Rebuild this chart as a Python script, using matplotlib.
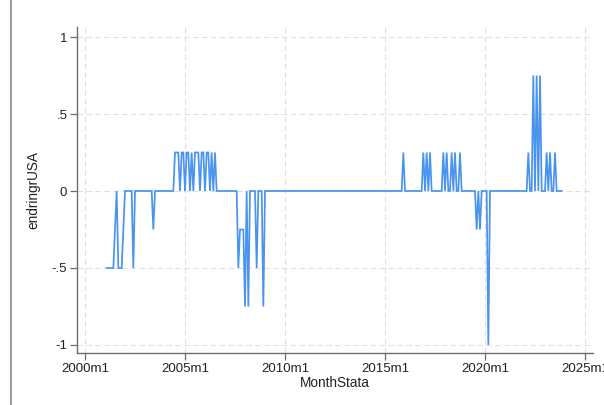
import numpy as np
import matplotlib
matplotlib.use("Agg")
import matplotlib.pyplot as plt
from matplotlib.lines import Line2D

# Monthly change in the US policy rate (percentage points); months not listed are 0
series_start = "2001m2"
series_end = "2023m11"
change_months = [
    "2001m2", "2001m3", "2001m4", "2001m5", "2001m6", "2001m7",
    "2001m9", "2001m10", "2001m11", "2001m12",
    "2002m6", "2003m6",
    "2004m7", "2004m8", "2004m9", "2004m11", "2004m12",
    "2005m2", "2005m3", "2005m5", "2005m7", "2005m8", "2005m9",
    "2005m11", "2005m12", "2006m2", "2006m3", "2006m5", "2006m7",
    "2007m9", "2007m10", "2007m11", "2007m12", "2008m1", "2008m3",
    "2008m8", "2008m12",
    "2015m12", "2016m12", "2017m2", "2017m4", "2017m12",
    "2018m2", "2018m5", "2018m7", "2018m10",
    "2019m8", "2019m10", "2020m3",
    "2022m3", "2022m6", "2022m8", "2022m10",
    "2023m2", "2023m4", "2023m7",
]
change_values = [
    -0.5, -0.5, -0.5, -0.5, -0.5, -0.25,
    -0.5, -0.5, -0.5, -0.25,
    -0.5, -0.25,
    0.25, 0.25, 0.25, 0.25, 0.25,
    0.25, 0.25, 0.25, 0.25, 0.25, 0.25,
    0.25, 0.25, 0.25, 0.25, 0.25, 0.25,
    -0.5, -0.25, -0.25, -0.25, -0.75, -0.75,
    -0.5, -0.75,
    0.25, 0.25, 0.25, 0.25, 0.25,
    0.25, 0.25, 0.25, 0.25,
    -0.25, -0.25, -1.0,
    0.25, 0.75, 0.75, 0.75,
    0.25, 0.25, 0.25,
]

x_ticks = ["2000m1", "2005m1", "2010m1", "2015m1", "2020m1", "2025m1"]
y_ticks = [-1, -0.5, 0, 0.5, 1]
y_tick_labels = ["-1", "-.5", "0", ".5", "1"]


def stata_month(label):
    """Stata %tm value: months since 1960m1."""
    year, month = label.split("m")
    return (int(year) - 1960) * 12 + int(month) - 1


months = np.arange(stata_month(series_start), stata_month(series_end) + 1)
values = np.zeros(len(months))
for lab, val in zip(change_months, change_values):
    values[months == stata_month(lab)] = val

plt.rcParams["font.family"] = ["Liberation Sans", "DejaVu Sans"]

fig = plt.figure(figsize=(6.04, 4.05), dpi=100)
ax = fig.add_axes([77 / 604, 1 - 353 / 405, (593 - 77) / 604, (353 - 27) / 405])

ax.plot(months, values, color="#4a93ee", lw=1.25, solid_joinstyle="miter")

tick_pos = [stata_month(t) for t in x_ticks]
ax.set_xticks(tick_pos)
ax.set_xticklabels(x_ticks)
ax.set_yticks(y_ticks)
ax.set_yticklabels(y_tick_labels)

ax.set_xlim(stata_month("2000m1") - 4.8, stata_month("2025m1") + 4.8)
ax.set_ylim(-1.052, 1.065)

ax.grid(True, color="#e0e0e0", lw=0.8, ls=(0, (5, 3)))
ax.set_axisbelow(True)

for side in ("top", "right"):
    ax.spines[side].set_visible(False)
for side in ("left", "bottom"):
    ax.spines[side].set_color("#6e6e6e")
    ax.spines[side].set_linewidth(1.0)

ax.tick_params(axis="both", direction="out", length=5, width=0.9,
               color="#6e6e6e", labelsize=9.5, labelcolor="#222222", pad=2)

ax.set_xlabel("MonthStata", fontsize=9.8, color="#222222", labelpad=1)
ax.set_ylabel("endringrUSA", fontsize=9.8, color="#222222", labelpad=8)

# thin frame line along the left edge of the window
fig.add_artist(Line2D([11 / 604, 11 / 604], [0, 1], transform=fig.transFigure,
                      color="#8a8a8a", lw=1.2))

fig.savefig("out.png", dpi=100, facecolor="white")
